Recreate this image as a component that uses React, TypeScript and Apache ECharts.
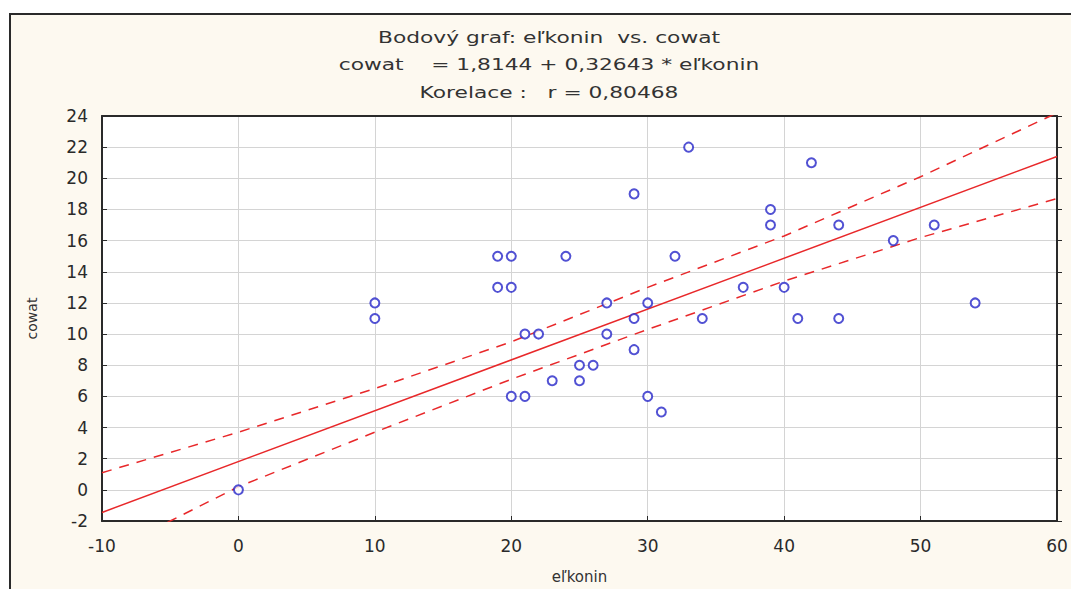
import React, { useEffect, useRef } from "react";
import * as echarts from "echarts";

// Scatter data: eľkonin (x) vs cowat (y)
const xValues = [0, 10, 10, 19, 20, 19, 20, 24, 21, 22, 27, 27, 20, 21, 23, 25, 25, 26, 29, 29, 29, 30, 30, 31, 32, 33, 34, 37, 39, 39, 40, 41, 42, 44, 44, 48, 51, 54];
const yValues = [0, 12, 11, 15, 15, 13, 13, 15, 10, 10, 10, 12, 6, 6, 7, 7, 8, 8, 19, 11, 9, 12, 6, 5, 15, 22, 11, 13, 18, 17, 13, 11, 21, 17, 11, 16, 17, 12];

// Fitted line cowat = 1,8144 + 0,32643 * eľkonin, read at the axis ends
const fitX = [-10, 60];
const fitY = [-1.45, 21.4];

// Confidence band
const bandX = [-10, -5, 0, 10, 20, 30, 40, 50, 60];
const bandUpper = [1.1, 2.4, 3.7, 6.5, 9.5, 13.0, 16.3, 20.1, 24.2];
const bandLower = [-4.0, -2.0, 0.2, 3.7, 7.1, 10.3, 13.4, 16.2, 18.7];

const titleLines = [
  "Bodový graf: eľkonin  vs. cowat",
  "cowat    = 1,8144 + 0,32643 * eľkonin",
  "Korelace :   r = 0,80468",
];

const FONT = "'DejaVu Sans', 'Liberation Sans', sans-serif";
const RED = "#e8282a";
const BLUE = "#2626c8";
const DARK = "#2a2a2a";

export default function App() {
  const ref = useRef<HTMLDivElement>(null);
  useEffect(() => {
    if (!ref.current) return;
    const chart = echarts.init(ref.current, null, { renderer: "svg" });
    const pts = xValues.map((x, i) => [x, yValues[i]]);
    const fit = fitX.map((x, i) => [x, fitY[i]]);
    const up = bandX.map((x, i) => [x, bandUpper[i]]);
    const lo = bandX.map((x, i) => [x, bandLower[i]]);
    const titleY = [38, 65, 93];
    chart.setOption({
      animation: false,
      graphic: titleLines.map((t, i) => ({
        type: "text",
        x: 549,
        y: titleY[i],
        scaleX: 1.36,
        style: {
          text: t,
          textAlign: "center",
          textVerticalAlign: "middle",
          fontFamily: FONT,
          fontSize: 16,
          fill: "#333",
        },
      })),
      grid: {
        left: 102,
        top: 116,
        right: 14,
        bottom: 65,
        show: true,
        backgroundColor: "#ffffff",
        borderWidth: 0,
      },
      xAxis: [
        {
          type: "value",
          min: -10,
          max: 60,
          interval: 10,
          name: "eľkonin",
          nameLocation: "middle",
          nameGap: 48,
          nameTextStyle: { fontFamily: FONT, fontSize: 15, color: "#333" },
          axisLine: { show: true, onZero: false, lineStyle: { color: DARK, width: 2 } },
          axisTick: { show: true, inside: true, length: 5, lineStyle: { color: DARK } },
          axisLabel: { fontFamily: FONT, fontSize: 17, color: "#2a2a2a", margin: 16 },
          splitLine: { show: true, lineStyle: { color: "#d4d4d4", width: 1 } },
        },
        {
          type: "value",
          min: -10,
          max: 60,
          interval: 10,
          position: "top",
          axisLine: { show: true, onZero: false, lineStyle: { color: DARK, width: 2 } },
          axisTick: { show: false },
          axisLabel: { show: false },
          splitLine: { show: false },
        },
      ],
      yAxis: [
        {
          type: "value",
          min: -2,
          max: 24,
          interval: 2,
          name: "cowat",
          nameLocation: "middle",
          nameGap: 63,
          nameRotate: 90,
          nameTextStyle: { fontFamily: FONT, fontSize: 14, color: "#333" },
          axisLine: { show: true, onZero: false, lineStyle: { color: DARK, width: 2 } },
          axisTick: { show: true, inside: true, length: 5, lineStyle: { color: DARK } },
          axisLabel: { fontFamily: FONT, fontSize: 17, color: "#2a2a2a", margin: 14 },
          splitLine: { show: true, lineStyle: { color: "#d4d4d4", width: 1 } },
        },
        {
          type: "value",
          min: -2,
          max: 24,
          interval: 2,
          position: "right",
          axisLine: { show: true, onZero: false, lineStyle: { color: DARK, width: 2 } },
          axisTick: { show: true, inside: false, length: 5, lineStyle: { color: DARK } },
          axisLabel: { show: false },
          splitLine: { show: false },
        },
      ],
      series: [
        {
          type: "line",
          data: fit,
          symbol: "none",
          lineStyle: { color: RED, width: 1.5 },
          z: 3,
        },
        {
          type: "line",
          data: up,
          symbol: "none",
          lineStyle: { color: RED, width: 1.5, type: [10, 8] },
          z: 3,
        },
        {
          type: "line",
          data: lo,
          symbol: "none",
          lineStyle: { color: RED, width: 1.5, type: [10, 8] },
          z: 3,
        },
        {
          type: "scatter",
          data: pts,
          symbol: "circle",
          symbolSize: 9,
          itemStyle: { color: "#ffffff", borderColor: BLUE, borderWidth: 2 },
          z: 4,
        },
      ],
    });
    return () => chart.dispose();
  }, []);

  return (
    <div style={{ position: "absolute", left: 0, top: 0, width: 1071, height: 589, background: "#ffffff", overflow: "hidden" }}>
      <div
        style={{
          position: "absolute",
          left: 9,
          top: 13,
          width: 1100,
          height: 620,
          background: "#fdf9f0",
          borderLeft: "2px solid #2a2a2a",
          borderTop: "2px solid #2a2a2a",
        }}
      />
      <div ref={ref} style={{ position: "absolute", left: 0, top: 0, width: 1071, height: 589 }} />
    </div>
  );
}
